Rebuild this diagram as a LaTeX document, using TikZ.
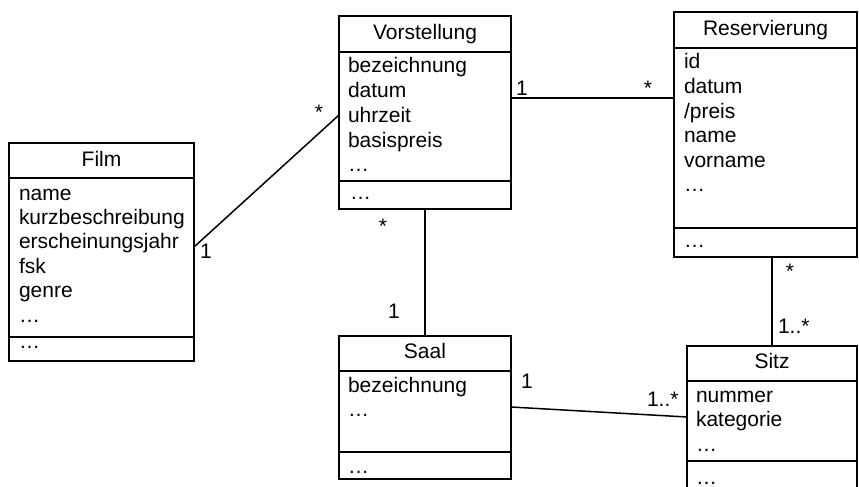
\documentclass[tikz,border=0pt]{standalone}
\usepackage{fontspec}
\setmainfont{Liberation Sans}
\usetikzlibrary{positioning}

% class box: name, x1, y1, x2, y2, first separator y, second separator y
\newcommand\umlclassbox[7]{%
  \node[classbox, anchor=north west, minimum width={#4-#2}, minimum height={#5-#3}] (#1) at (#2,#3) {};
  \draw[classline] (#2,#6) -- (#4,#6);
  \draw[classline] (#2,#7) -- (#4,#7);
}

\begin{document}
\begin{tikzpicture}[x=1pt, y=-1pt,
  classbox/.style={draw, line width=1.6pt, inner sep=0pt, outer sep=0pt},
  classline/.style={line width=1.6pt},
  assoc/.style={line width=1.5pt},
  txt/.style={inner sep=0pt, outer sep=0pt, font=\fontsize{21}{24}\selectfont},
  attr/.style={txt, anchor=base west},
  title/.style={txt, anchor=base},
  mult/.style={txt, anchor=base},
  multw/.style={txt, anchor=base west}]

\useasboundingbox (0,0) rectangle (859,487);
\fill[white] (0,0) rectangle (859,487);
\clip (0,0) rectangle (859,487);

% ---- classes ----
\umlclassbox{film}{9}{143}{194}{361}{178}{337}
\umlclassbox{vor}{339}{16}{511}{209}{52}{181}
\umlclassbox{res}{674}{12}{857}{257}{48}{228}
\umlclassbox{saal}{339}{336}{511}{479}{371}{452}
\umlclassbox{sitz}{687}{346}{857}{500}{381}{461}

% Film
\node[title] (film-t) at (101.5,166) {Film};
\foreach \t [count=\i] in {name, kurzbeschreibung, erscheinungsjahr, fsk, genre, …}
  \node[attr] (film-a\i) at (19,{200+(\i-1)*24.4}) {\t};
\node[attr] (film-m1) at (19,348) {…};

% Vorstellung
\node[title] (vor-t) at (425,39.5) {Vorstellung};
\foreach \t [count=\i] in {bezeichnung, datum, uhrzeit, basispreis, …}
  \node[attr] (vor-a\i) at (348,{73+(\i-1)*24.7}) {\t};
\node[attr] (vor-m1) at (350,199) {…};

% Reservierung
\node[title] (res-t) at (765.5,35.5) {Reservierung};
\foreach \t [count=\i] in {id, datum, /preis, name, vorname, …}
  \node[attr] (res-a\i) at (684,{69+(\i-1)*24.5}) {\t};
\node[attr] (res-m1) at (684,247) {…};

% Saal
\node[title] (saal-t) at (425,358.5) {Saal};
\foreach \t [count=\i] in {bezeichnung, …}
  \node[attr] (saal-a\i) at (348,{392+(\i-1)*24.5}) {\t};
\node[attr] (saal-m1) at (348,473) {…};

% Sitz
\node[title] (sitz-t) at (772,368.5) {Sitz};
\foreach \t [count=\i] in {nummer, kategorie, …}
  \node[attr] (sitz-a\i) at (696,{402+(\i-1)*24.5}) {\t};
\node[attr] (sitz-m1) at (696,484) {…};

% ---- associations ----
\draw[assoc] ([yshift=-104pt]film.north east) -- ([yshift=-99pt]vor.north west);
\draw[assoc] ([yshift=-82pt]vor.north east) -- ([yshift=-86pt]res.north west);
\draw[assoc] (vor.south) -- (saal.north);
\draw[assoc] (sitz.north |- res.south) -- (sitz.north);
\draw[assoc] ([yshift=-71pt]saal.north east) -- ([yshift=-71pt]sitz.north west);

% ---- multiplicities ----
\node[mult] (m-film) at (206,258) {1};
\node[mult] (m-vor1) at (319,119) {*};
\node[mult] (m-vor2) at (522,95) {1};
\node[mult] (m-res1) at (648,95) {*};
\node[mult] (m-vor3) at (383,233) {*};
\node[mult] (m-saal1) at (394,318) {1};
\node[mult] (m-saal2) at (527,388) {1};
\node[multw] (m-sitz1) at (647,406) {1..*};
\node[mult] (m-res2) at (790,278) {*};
\node[multw] (m-sitz2) at (778,333) {1..*};

\end{tikzpicture}
\end{document}
